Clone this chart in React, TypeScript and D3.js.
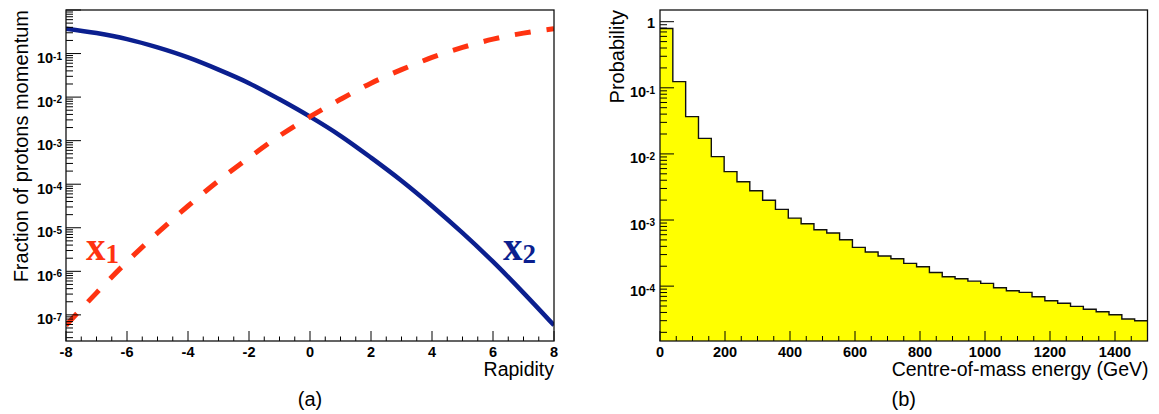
import React from 'react';
import * as d3 from 'd3';

// ---------- data ----------
const rapidity = [-8, -7, -6, -5, -4, -3, -2, -1, 0, 1, 2, 3, 4, 5, 6, 7, 8];
const x1Fraction = [5.75e-8, 3.2e-7, 1.66e-6, 7.6e-6, 3.16e-5, 1.2e-4, 4.07e-4, 1.29e-3, 3.55e-3,
  8.9e-3, 2.09e-2, 4.27e-2, 8.13e-2, 0.138, 0.214, 0.295, 0.372];
const x2Fraction = [0.372, 0.295, 0.214, 0.138, 8.13e-2, 4.27e-2, 2.09e-2, 8.9e-3, 3.55e-3,
  1.29e-3, 4.07e-4, 1.2e-4, 3.16e-5, 7.6e-6, 1.66e-6, 3.2e-7, 5.75e-8];

const energyMax = 1500; // GeV, 38 bins over the range
const binProbability = [
  0.79, 0.124, 0.0366, 0.0172, 0.0091, 0.0054, 0.0038, 2.77e-3, 1.99e-3, 1.45e-3,
  1.07e-3, 8.8e-4, 7.13e-4, 6.36e-4, 5.03e-4, 3.86e-4, 3.28e-4, 2.85e-4, 2.6e-4, 2.21e-4,
  1.96e-4, 1.61e-4, 1.39e-4, 1.29e-4, 1.19e-4, 1.1e-4, 9.46e-5, 8.5e-5, 8.05e-5, 6.9e-5,
  6.0e-5, 5.5e-5, 4.94e-5, 4.46e-5, 4.1e-5, 3.7e-5, 3.18e-5, 3.0e-5,
];

const leftXTicks = [-8, -6, -4, -2, 0, 2, 4, 6, 8];
const rightXTicks = [0, 200, 400, 600, 800, 1000, 1200, 1400];
const leftYExponents = [-1, -2, -3, -4, -5, -6, -7];
const rightYExponents = [0, -1, -2, -3, -4];

// ---------- layout ----------
const W = 1159;
const H = 414;
const SANS = "'Liberation Sans', Arial, Helvetica, sans-serif";
const SERIF = "'Liberation Serif', 'Times New Roman', serif";
const L = { x0: 66, x1: 554, y0: 10, y1: 341 };
const R = { x0: 660, x1: 1147.5, y0: 10, y1: 341 };

const xL = d3.scaleLinear().domain([-8, 8]).range([L.x0, L.x1]);
const yL = d3.scaleLog().domain([Math.pow(10, -7.6), 1]).range([L.y1, L.y0]);
const xR = d3.scaleLinear().domain([0, energyMax]).range([R.x0, R.x1]);
const yR = d3.scaleLog().domain([Math.pow(10, -4.83), Math.pow(10, 0.177)]).range([R.y1, R.y0]);

function logTickValues(scale: any) {
  const [lo, hi] = scale.domain();
  const out: { v: number; major: boolean }[] = [];
  for (let e = Math.floor(Math.log10(lo)); e <= Math.ceil(Math.log10(hi)); e++) {
    for (let m = 1; m <= 9; m++) {
      const v = m * Math.pow(10, e);
      if (v >= lo * 0.9999 && v <= hi * 1.0001) out.push({ v, major: m === 1 });
    }
  }
  return out;
}

function linearMinor(from: number, to: number, step: number) {
  const out: number[] = [];
  for (let v = from; v <= to + 1e-9; v += step) out.push(v);
  return out;
}

function PowerLabel({ x, y, exp }: { x: number; y: number; exp: number }) {
  if (exp === 0) {
    return (
      <text x={x} y={y + 6.5} textAnchor="end" fontFamily={SANS} fontWeight="bold" fontSize={14.5} fill="#000">
        1
      </text>
    );
  }
  return (
    <text x={x} y={y + 9.5} textAnchor="end" fontFamily={SANS} fontWeight="bold" fontSize={14.5} fill="#000">
      10
      <tspan dy={-3.5} fontSize={10}>{String(exp)}</tspan>
    </text>
  );
}

export default function App() {
  const lineX1 = d3
    .line<number>()
    .x((_, i) => xL(rapidity[i]))
    .y((d) => yL(d))
    .curve(d3.curveMonotoneX)(x1Fraction) as string;
  const lineX2 = d3
    .line<number>()
    .x((_, i) => xL(rapidity[i]))
    .y((d) => yL(d))
    .curve(d3.curveMonotoneX)(x2Fraction) as string;

  const binW = energyMax / binProbability.length;
  const stepPts: [number, number][] = [];
  binProbability.forEach((p, i) => {
    stepPts.push([xR(i * binW), yR(p)]);
    stepPts.push([xR((i + 1) * binW), yR(p)]);
  });
  const outline = d3.line()(stepPts) as string;
  const fill =
    `M${xR(0)},${R.y1}L` + stepPts.map((p) => p.join(',')).join('L') + `L${xR(energyMax)},${R.y1}Z`;

  const lTicksY = logTickValues(yL);
  const rTicksY = logTickValues(yR);

  return (
    <div style={{ position: 'fixed', left: 0, top: 0, width: W, height: H, background: '#fff' }}>
      <svg width={W} height={H} viewBox={`0 0 ${W} ${H}`} style={{ display: 'block' }}>
        <defs>
          <clipPath id="clipL">
            <rect x={L.x0} y={L.y0} width={L.x1 - L.x0} height={L.y1 - L.y0} />
          </clipPath>
          <clipPath id="clipR">
            <rect x={R.x0} y={R.y0} width={R.x1 - R.x0} height={R.y1 - R.y0} />
          </clipPath>
        </defs>
        <rect x={0} y={0} width={W} height={H} fill="#fff" />

        {/* ---------------- left panel ---------------- */}
        <g clipPath="url(#clipL)">
          <path d={lineX2} fill="none" stroke="#0b1f8f" strokeWidth={4.5} />
          <path d={lineX1} fill="none" stroke="#ff3311" strokeWidth={5} strokeDasharray="16,16" />
        </g>
        {lTicksY.map((t, i) => (
          <line key={'ly' + i} x1={L.x0} x2={L.x0 + (t.major ? 15 : 7)} y1={yL(t.v)} y2={yL(t.v)} stroke="#000" strokeWidth={1} />
        ))}
        {linearMinor(-8, 8, 0.5).map((v, i) => {
          const major = Math.abs(v / 2 - Math.round(v / 2)) < 1e-9;
          return (
            <line key={'lx' + i} x1={xL(v)} x2={xL(v)} y1={L.y1} y2={L.y1 - (major ? 10 : 4.5)} stroke="#000" strokeWidth={1} />
          );
        })}
        <rect x={L.x0} y={L.y0} width={L.x1 - L.x0} height={L.y1 - L.y0} fill="none" stroke="#111" strokeWidth={1.3} />
        {leftYExponents.map((e) => (
          <PowerLabel key={'lyl' + e} x={62} y={yL(Math.pow(10, e))} exp={e} />
        ))}
        {leftXTicks.map((v) => (
          <text key={'lxl' + v} x={xL(v)} y={357} textAnchor="middle" fontFamily={SANS} fontWeight="bold" fontSize={14.5}>
            {String(v)}
          </text>
        ))}
        <text x={L.x1} y={376} textAnchor="end" fontFamily={SANS} fontSize={19.5}>Rapidity</text>
        <text transform={`translate(28,${L.y0}) rotate(-90)`} textAnchor="end" fontFamily={SANS} fontSize={20}>
          Fraction of protons momentum
        </text>
        <text x={86} y={260} fontFamily={SERIF} fontWeight="bold" fontSize={39} fill="#ff3311">
          x<tspan dy={3} fontSize={27}>1</tspan>
        </text>
        <text x={503} y={260} fontFamily={SERIF} fontWeight="bold" fontSize={39} fill="#0b1f8f">
          x<tspan dy={3} fontSize={27}>2</tspan>
        </text>
        <text x={(L.x0 + L.x1) / 2} y={406} textAnchor="middle" fontFamily={SANS} fontSize={20}>(a)</text>

        {/* ---------------- right panel ---------------- */}
        <g clipPath="url(#clipR)">
          <path d={fill} fill="#ffff00" stroke="none" />
          <path d={outline} fill="none" stroke="#111" strokeWidth={1.4} />
        </g>
        {rTicksY.map((t, i) => (
          <line key={'ry' + i} x1={R.x0} x2={R.x0 + (t.major ? 14 : 7)} y1={yR(t.v)} y2={yR(t.v)} stroke="#000" strokeWidth={1} />
        ))}
        {linearMinor(0, energyMax, 50).map((v, i) => {
          const major = v % 200 === 0;
          return (
            <line key={'rx' + i} x1={xR(v)} x2={xR(v)} y1={R.y1} y2={R.y1 - (major ? 10 : 5)} stroke="#000" strokeWidth={1} />
          );
        })}
        <rect x={R.x0} y={R.y0} width={R.x1 - R.x0} height={R.y1 - R.y0} fill="none" stroke="#111" strokeWidth={1.3} />
        {rightYExponents.map((e) => (
          <PowerLabel key={'ryl' + e} x={655} y={yR(Math.pow(10, e))} exp={e} />
        ))}
        {rightXTicks.map((v) => (
          <text key={'rxl' + v} x={xR(v)} y={357} textAnchor="middle" fontFamily={SANS} fontWeight="bold" fontSize={14.5}>
            {String(v)}
          </text>
        ))}
        <text x={R.x1 + 1} y={376} textAnchor="end" fontFamily={SANS} fontSize={19.5}>Centre-of-mass energy (GeV)</text>
        <text transform={`translate(624,${R.y0}) rotate(-90)`} textAnchor="end" fontFamily={SANS} fontSize={20}>
          Probability
        </text>
        <text x={(R.x0 + R.x1) / 2} y={406} textAnchor="middle" fontFamily={SANS} fontSize={20}>(b)</text>
      </svg>
    </div>
  );
}
